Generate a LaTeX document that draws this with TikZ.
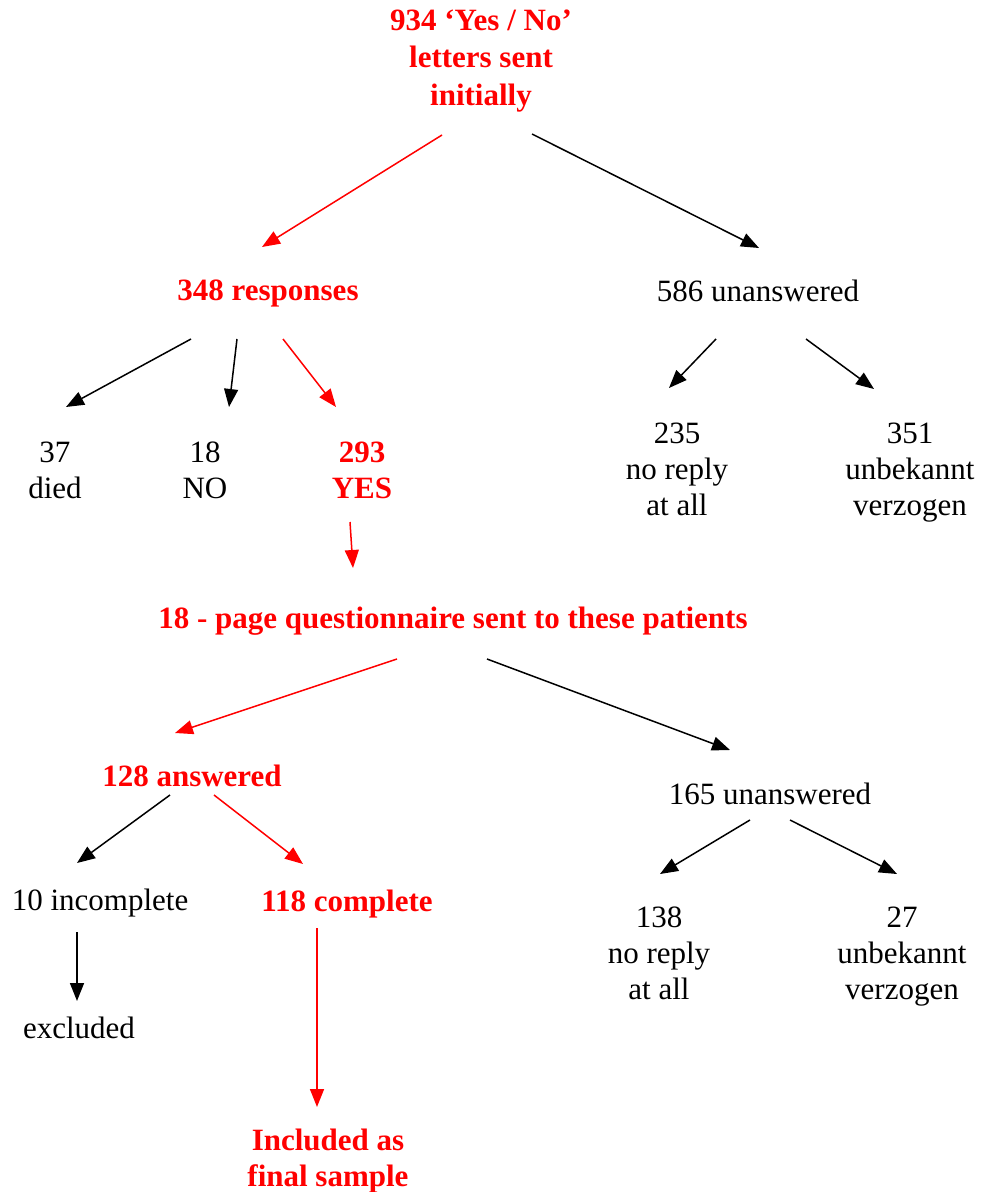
\documentclass[tikz,border=0pt]{standalone}
\usepackage{fontspec}
\setmainfont{Liberation Serif}
\usetikzlibrary{arrows.meta}
\definecolor{hl}{RGB}{255,0,0}
\begin{document}
\begin{tikzpicture}[x=0.5pt,y=-0.5pt,
  txt/.style={inner sep=0pt,align=center,font=\fontsize{15.5}{18}\selectfont},
  hltxt/.style={txt,text=hl,font=\fontsize{15.5}{18}\selectfont\bfseries},
  conn/.style={line width=0.75pt,-{Triangle[length=9pt,width=7pt]}},
  hlconn/.style={conn,draw=hl,fill=hl}]
\useasboundingbox (0,0) rectangle (980,1192);
% nodes
\node[hltxt,font=\fontsize{15.5}{18.75}\selectfont\bfseries] (top) at (481,61) {934 ‘Yes / No’\\letters sent\\initially};
\node[hltxt] (resp) at (268,293) {348 responses};
\node[txt] (unans1) at (758,291) {586 unanswered};
\node[txt] (died) at (55,470) {37\\died};
\node[txt] (no) at (205,470) {18\\NO};
\node[hltxt] (yes) at (362,470) {293\\YES};
\node[txt] (nr1) at (677,469) {235\\no reply\\at all};
\node[txt] (uv1) at (910,473) {351\\unbekannt\\verzogen};
\node[hltxt] (quest) at (453,621) {18 - page questionnaire sent to these patients};
\node[hltxt] (answ) at (192,776) {128 answered};
\node[txt] (unans2) at (770,794) {165 unanswered};
\node[txt] (incomp) at (100,903) {10 incomplete};
\node[hltxt] (comp) at (347,904) {118 complete};
\node[txt] (nr2) at (659,953) {138\\no reply\\at all};
\node[txt] (uv2) at (902,957) {27\\unbekannt\\verzogen};
\node[txt] (excl) at (79,1028) {excluded};
\node[hltxt] (final) at (328,1161) {Included as\\final sample};
% connector endpoints
\coordinate (a1s) at (442,135); \coordinate (a1e) at (262,247);
\coordinate (a2s) at (532,134); \coordinate (a2e) at (759,248);
\coordinate (a3s) at (191,339); \coordinate (a3e) at (66,407);
\coordinate (a4s) at (237,339); \coordinate (a4e) at (229,407);
\coordinate (a5s) at (283,339); \coordinate (a5e) at (336,407);
\coordinate (a6s) at (716,339); \coordinate (a6e) at (669,388);
\coordinate (a7s) at (806,339); \coordinate (a7e) at (874,389);
\coordinate (a8s) at (350,522); \coordinate (a8e) at (353,568);
\coordinate (a9s) at (397,659); \coordinate (a9e) at (175,733);
\coordinate (a10s) at (487,659); \coordinate (a10e) at (730,750);
\coordinate (a11s) at (170,795); \coordinate (a11e) at (77,863);
\coordinate (a12s) at (214,795); \coordinate (a12e) at (303,864);
\coordinate (a13s) at (750,820); \coordinate (a13e) at (660,874);
\coordinate (a14s) at (790,820); \coordinate (a14e) at (897,874);
\coordinate (a15s) at (77,932); \coordinate (a15e) at (77,1001);
\coordinate (a16s) at (317,928); \coordinate (a16e) at (317,1107);
% connectors
\draw[hlconn] (a1s) -- (a1e);
\draw[conn] (a2s) -- (a2e);
\draw[conn] (a3s) -- (a3e);
\draw[conn] (a4s) -- (a4e);
\draw[hlconn] (a5s) -- (a5e);
\draw[conn] (a6s) -- (a6e);
\draw[conn] (a7s) -- (a7e);
\draw[hlconn] (a8s) -- (a8e);
\draw[hlconn] (a9s) -- (a9e);
\draw[conn] (a10s) -- (a10e);
\draw[conn] (a11s) -- (a11e);
\draw[hlconn] (a12s) -- (a12e);
\draw[conn] (a13s) -- (a13e);
\draw[conn] (a14s) -- (a14e);
\draw[conn] (a15s) -- (a15e);
\draw[hlconn] (a16s) -- (a16e);
\end{tikzpicture}
\end{document}
